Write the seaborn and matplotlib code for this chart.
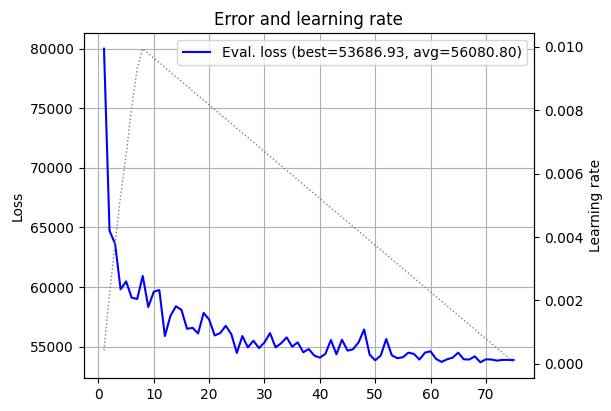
import numpy as np
import pandas as pd
import seaborn as sns
import matplotlib
matplotlib.use('Agg')
import matplotlib.pyplot as plt

# values
epochs = list(range(1, 76))
eval_loss = [80000, 64725, 63640, 59810, 60475, 59110, 59000, 60940, 58330, 59610,
             59750, 55890, 57580, 58390, 58080, 56500, 56580, 56110, 57830, 57280,
             55940, 56140, 56750, 56060, 54470, 55890, 54940, 55500, 54880, 55360,
             56140, 54940, 55280, 55780, 55000, 55360, 54530, 54800, 54250, 54080,
             54390, 55560, 54360, 55580, 54670, 54780, 55360, 56440, 54330, 53860,
             54250, 55640, 54280, 54030, 54110, 54500, 54390, 53920, 54500, 54610,
             53970, 53720, 53940, 54080, 54500, 53940, 53920, 54190, 53687, 53940,
             53920, 53830, 53890, 53890, 53880]
learning_rate = [0.00043, 0.0022, 0.0038, 0.0053, 0.0066, 0.0081, 0.0093, 0.00994,
                 0.00979, 0.00964, 0.00950, 0.00935, 0.00920, 0.00905, 0.00891, 0.00876,
                 0.00861, 0.00846, 0.00832, 0.00817, 0.00802, 0.00787, 0.00773, 0.00758,
                 0.00743, 0.00728, 0.00714, 0.00699, 0.00684, 0.00669, 0.00655, 0.00640,
                 0.00625, 0.00610, 0.00596, 0.00581, 0.00566, 0.00551, 0.00537, 0.00522,
                 0.00507, 0.00492, 0.00478, 0.00463, 0.00448, 0.00433, 0.00419, 0.00404,
                 0.00389, 0.00374, 0.00360, 0.00345, 0.00330, 0.00315, 0.00301, 0.00286,
                 0.00271, 0.00256, 0.00242, 0.00227, 0.00212, 0.00197, 0.00183, 0.00168,
                 0.00153, 0.00138, 0.00124, 0.00109, 0.00094, 0.00079, 0.00065, 0.00050,
                 0.00035, 0.00020, 0.00005]
legend_label = 'Eval. loss (best=53686.93, avg=56080.80)'

df = pd.DataFrame({'epoch': epochs, 'loss': eval_loss, 'lr': learning_rate})

fig, ax = plt.subplots(figsize=(6.11, 4.11), dpi=100)
fig.subplots_adjust(left=0.1367, right=0.874, top=0.9197, bottom=0.0803)

sns.lineplot(data=df, x='epoch', y='loss', ax=ax, color='blue', linewidth=1.5, label=legend_label)
ax.set_ylabel('Loss')
ax.set_xlabel('')
ax.grid(True)
ax.set_title('Error and learning rate')
ax.legend(loc='upper right')

ax2 = ax.twinx()
sns.lineplot(data=df, x='epoch', y='lr', ax=ax2, color='gray', linestyle=':', linewidth=1)
ax2.set_ylabel('Learning rate')
ax2.set_xlabel('')

fig.savefig('out.png', dpi=100)
